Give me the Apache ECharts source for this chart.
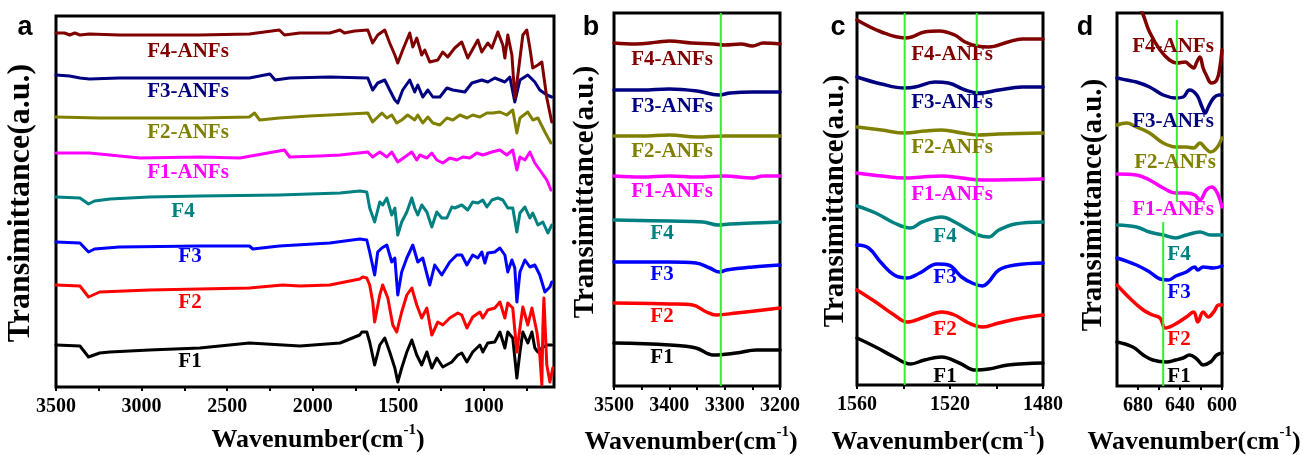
<!DOCTYPE html>
<html><head><meta charset="utf-8">
<script src="https://cdn.jsdelivr.net/npm/echarts@6/dist/echarts.min.js"></script>
<style>html,body{margin:0;padding:0;background:#fff}#c{width:1306px;height:455px}</style>
</head><body><div id="c"></div>
<script>
// ---------- names / colours ----------
const seriesNames = ['F1','F2','F3','F4','F1-ANFs','F2-ANFs','F3-ANFs','F4-ANFs'];
const seriesColors = ['#000000','#ff0000','#0000ff','#008080','#ff00ff','#808000','#000080','#800000'];

// ---------- panel a (wavenumber, transmittance a.u.) ----------
const aF1 = [[3500,42],[3360,41],[3310,30],[3245,34],[3185,35],[2955,37],[2660,39],[2370,44],[2075,41],[1840,44],[1725,52],[1713,55],[1684,55],[1667,45],[1638,22],[1608,42],[1579,49],[1550,35],[1520,19],[1503,5],[1480,19],[1450,35],[1421,47],[1392,32],[1363,22],[1333,35],[1304,19],[1275,29],[1240,20],[1187,25],[1152,32],[1129,34],[1099,25],[1065,35],[1023,42],[1006,35],[977,44],[936,45],[906,55],[877,39],[860,55],[831,49],[807,9],[789,35],[772,55],[743,44],[719,55],[702,39],[684,35],[661,39],[632,42],[603,42]];
const aF2 = [[3500,102],[3360,101],[3310,90],[3245,95],[2955,97],[2660,98],[2370,99],[2175,102],[2075,101],[1900,102],[1725,108],[1708,110],[1684,109],[1667,102],[1649,85],[1638,65],[1608,92],[1591,102],[1561,89],[1532,62],[1509,55],[1480,75],[1450,92],[1421,99],[1392,82],[1363,69],[1333,79],[1304,52],[1269,65],[1240,62],[1199,69],[1152,74],[1129,72],[1099,59],[1065,70],[1023,75],[1006,69],[977,77],[936,79],[906,85],[877,69],[860,84],[831,79],[807,35],[789,59],[772,80],[743,62],[719,79],[690,55],[673,32],[661,2],[655,60],[649,89],[632,22],[614,5],[597,19]];
const aF3 = [[3500,145],[3360,144],[3310,135],[3275,138],[3130,140],[2660,141],[2370,141],[2350,138],[2195,141],[1900,144],[1725,148],[1684,147],[1667,135],[1638,112],[1620,135],[1596,139],[1567,142],[1538,125],[1520,129],[1503,92],[1480,115],[1450,129],[1415,142],[1386,125],[1357,129],[1316,102],[1287,122],[1246,112],[1199,125],[1158,132],[1129,132],[1099,122],[1065,132],[1035,129],[1012,135],[994,124],[977,134],[936,135],[906,139],[877,132],[860,115],[836,127],[819,119],[807,85],[789,115],[760,127],[731,120],[702,122],[673,112],[643,95],[614,100],[603,105]];
const aF4 = [[3500,190],[3360,189],[3310,183],[3275,186],[3185,188],[2955,190],[2660,191],[2195,192],[1840,194],[1725,196],[1684,195],[1667,179],[1638,165],[1608,185],[1591,182],[1567,189],[1538,172],[1520,179],[1503,152],[1480,165],[1450,175],[1421,189],[1404,179],[1386,172],[1363,182],[1333,175],[1304,160],[1275,175],[1246,169],[1216,169],[1187,180],[1170,179],[1129,182],[1094,177],[1065,185],[1035,184],[1006,187],[982,180],[953,187],[918,189],[889,187],[860,179],[831,179],[807,155],[789,174],[760,180],[731,169],[714,174],[684,162],[655,165],[626,154],[603,162]];
const aF1ANF = [[3500,234],[3305,234],[3245,233],[3010,229],[2660,230],[2425,229],[2165,237],[2135,230],[1960,231],[1840,232],[1678,235],[1650,230],[1608,235],[1567,230],[1538,235],[1503,225],[1462,230],[1421,235],[1392,227],[1374,232],[1333,229],[1304,234],[1275,227],[1240,224],[1199,229],[1158,227],[1123,230],[1082,229],[1041,234],[1006,232],[953,235],[906,237],[866,232],[831,237],[807,217],[789,230],[760,227],[731,235],[702,224],[673,217],[632,207],[608,197]];
const aF2ANF = [[3500,270],[3245,269],[2660,269],[2370,270],[2340,274],[2310,267],[2195,269],[2020,271],[1900,272],[1678,274],[1650,265],[1596,274],[1567,269],[1538,272],[1509,264],[1480,267],[1445,272],[1404,267],[1386,272],[1357,264],[1327,270],[1298,264],[1257,262],[1216,269],[1181,267],[1140,272],[1099,269],[1065,272],[1023,270],[982,274],[947,274],[906,275],[866,272],[831,277],[807,254],[789,269],[743,275],[714,267],[684,269],[643,255],[608,244]];
const aF3ANF = [[3500,312],[3420,311],[3360,309],[3305,308],[3130,309],[2660,309],[2370,309],[2250,313],[2220,307],[2135,309],[1900,310],[1678,309],[1650,297],[1620,304],[1579,307],[1550,297],[1520,287],[1503,284],[1474,297],[1433,307],[1404,295],[1386,302],[1357,290],[1327,297],[1298,290],[1257,290],[1216,299],[1181,297],[1111,295],[1070,304],[1012,307],[977,305],[936,309],[877,305],[848,310],[819,285],[789,307],[743,312],[702,305],[673,297],[632,292],[603,290]];
const aF4ANF = [[3500,354],[3450,354],[3420,352],[3390,354],[3360,352],[3305,353],[3130,352],[2955,352],[2660,352],[2370,353],[2195,357],[2165,352],[2075,354],[1900,354],[1840,357],[1815,354],[1755,356],[1678,357],[1650,344],[1620,352],[1579,357],[1550,344],[1520,332],[1503,324],[1474,337],[1433,354],[1415,340],[1392,349],[1363,332],[1345,337],[1316,325],[1269,327],[1240,335],[1211,330],[1170,339],[1129,345],[1094,329],[1035,347],[1012,335],[977,344],[953,339],[918,355],[889,342],[877,329],[860,352],[836,332],[819,289],[801,312],[772,352],[749,357],[731,339],[714,319],[684,322],[661,325],[632,289],[603,265]];

// ---------- panel b ----------
const bF1 = [[3500,43],[3400,41],[3352,38],[3321,31],[3279,33],[3242,36],[3200,36]];
const bF2 = [[3500,83],[3400,82],[3358,81],[3333,74],[3315,71],[3279,73],[3200,78]];
const bF3 = [[3500,124],[3400,124],[3352,123],[3327,118],[3309,114],[3297,116],[3249,119],[3200,121]];
const bF4 = [[3500,166],[3400,165],[3339,164],[3312,161],[3291,162],[3250,163],[3200,164]];
const bF1ANF = [[3500,210],[3450,209],[3400,210],[3350,209],[3300,210],[3250,208],[3230,210],[3200,210]];
const bF2ANF = [[3500,250],[3450,250],[3400,251],[3350,249],[3300,250],[3250,250],[3200,250]];
const bF3ANF = [[3500,296],[3450,296],[3400,297],[3350,295],[3310,291],[3290,293],[3250,294],[3200,294]];
const bF4ANF = [[3500,343],[3461,342],[3420,344],[3400,345],[3360,343],[3320,342],[3300,341],[3270,342],[3250,340],[3230,343],[3200,342]];

// ---------- panel c ----------
const cF1 = [[1560,47],[1552,38],[1544,28],[1537,21],[1531,25],[1523.6,28],[1516,22],[1509,15],[1503.4,16],[1495,20],[1480,22]];
const cF2 = [[1560,95],[1552,83],[1544,70],[1538.5,63],[1531,68],[1523.6,73],[1518,70],[1512,62],[1506,58],[1499,62],[1489,67],[1480,70]];
const cF3 = [[1560,140],[1555,137],[1549.5,122],[1544,110],[1538.5,107],[1533,112],[1525.5,121],[1520.7,120],[1515,108],[1510.5,102],[1506,99],[1503.4,103],[1499,115],[1492,120],[1480,122]];
const cF4 = [[1560,179],[1552,172],[1544,162],[1537,157],[1532,163],[1523.6,168],[1518,163],[1512,155],[1508,150],[1503.4,148],[1499,155],[1492,161],[1480,163]];
const cF1ANF = [[1560,212],[1549.5,209],[1539.4,207],[1532,208],[1523.6,209],[1515,207],[1506,205],[1480,206]];
const cF2ANF = [[1560,258],[1549.5,255],[1539.4,252],[1531,254],[1523.6,255],[1515,252],[1508,250],[1499,251],[1480,252]];
const cF3ANF = [[1560,308],[1549.5,301],[1539.4,297],[1535,298],[1526.5,303],[1520.7,302],[1513.5,295],[1507.5,292],[1499,295],[1489,298],[1480,298]];
const cF4ANF = [[1560,365],[1549.5,353],[1539.4,347],[1536.5,348],[1531,353],[1524.5,354],[1518,350],[1513.5,343],[1508.5,339],[1503.4,338],[1495,343],[1489,346],[1480,346]];

// ---------- panel d ----------
const dF1 = [[700,44],[685,39],[675,31],[666,26],[653,24],[644,26],[637,28],[631,31],[624,27],[618,21],[611,24],[605,31],[600,33]];
const dF2 = [[700,101],[688,88],[675,76],[666,71],[659,68],[654,58],[646,61],[634,69],[627,74],[623,64],[618,74],[613,69],[608,74],[603,81],[600,81]];
const dF3 = [[700,128],[681.5,121],[669,114],[659,107],[651,106],[644,110],[634,114],[626,119],[623,116],[618,119],[608,118],[600,120]];
const dF4 = [[700,161],[681.5,159],[669,154],[656,151],[644,148],[634,151],[621,154],[611,151],[600,151]];
const dF1ANF = [[700,212],[681.5,211],[669,206],[656,198],[644,193],[634,193],[626,191],[621,186],[615,196],[610,199],[605,194],[600,179]];
const dF2ANF = [[700,261],[691,263],[681.5,259],[669,253],[656,243],[644,239],[634,239],[627,238],[621,243],[616,238],[611,234],[605,238],[600,248]];
const dF3ANF = [[700,308],[691,306],[681.5,304],[669,299],[656,291],[644,288],[637,289],[631,296],[624,291],[619,279],[616,273],[613,279],[608,288],[603,291],[600,291]];
const dF4ANF = [[683,390],[675,371],[669,354],[659,336],[650,326],[643,323],[635,324],[631,321],[627,318],[624,324],[621,329],[618,318],[615,311],[610,303],[605,306],[602,319],[600,336]];

// ---------- green marker lines ----------
const bGreen = [[[3307,0],[3307,373]]];
const cGreen = [[[1539.5,0],[1539.5,372]],[[1508.5,0],[1508.5,372]]];
const dGreen = [[[643,184],[643,366]],[[656,0],[656,164]]];

// ---------- axis ticks / labels ----------
const aLabels = [3500,3000,2500,2000,1500,1000];
const aTicks = [3500,3250,3000,2750,2500,2250,2000,1750,1500,1250,1000,750];
const bLabels = [3500,3400,3300,3200];
const bTicks = [3500,3450,3400,3350,3300,3250,3200];
const cLabels = [1560,1520,1480];
const cTicks = [1560,1540,1520,1500,1480];
const dLabels = [680,640,600];
const dTicks = [680,660,640,620,600];

const panelLetters = ['a','b','c','d'];
const yName = 'Transimittance(a.u.)';

// ---------- layout ----------
const panels = [
  {grid:{left:56,top:16,width:498,height:371}, min:590, max:3500, ymax:371, labels:aLabels, ticks:aTicks,
   data:[aF1,aF2,aF3,aF4,aF1ANF,aF2ANF,aF3ANF,aF4ANF], smooth:false, lw:3, green:[],
   lab:[[190,362],[190,303],[190,257],[183,212],[188,173],[188,133],[188,92],[188,52]],
   letter:[25,28], yname:[21,203,32], xname:[318,438]},
  {grid:{left:614,top:13,width:166,height:373}, min:3200, max:3500, ymax:373, labels:bLabels, ticks:bTicks,
   data:[bF1,bF2,bF3,bF4,bF1ANF,bF2ANF,bF3ANF,bF4ANF], smooth:0.4, lw:3.5, green:bGreen,
   lab:[[662,358],[662,317],[662,275],[662,234],[672,192],[672,152],[672,107],[672,60]],
   letter:[591,28], yname:[586,192,29], xname:[691,440]},
  {grid:{left:857,top:13,width:186,height:372}, min:1480, max:1560, ymax:372, labels:cLabels, ticks:cTicks,
   data:[cF1,cF2,cF3,cF4,cF1ANF,cF2ANF,cF3ANF,cF4ANF], smooth:0.4, lw:3.5, green:cGreen,
   lab:[[945,377],[945,330],[945,278],[945,237],[952,195],[952,148],[952,103],[952,55]],
   letter:[838,28], yname:[836,201,29], xname:[938,440]},
  {grid:{left:1117,top:13,width:105,height:373}, min:600, max:700, ymax:373, labels:dLabels, ticks:dTicks,
   data:[dF1,dF2,dF3,dF4,dF1ANF,dF2ANF,dF3ANF,dF4ANF], smooth:0.4, lw:3.5, green:dGreen,
   lab:[[1179,377],[1179,340],[1179,293],[1179,255],[1173,210],[1175,163],[1173,122],[1173,47]],
   letter:[1085,28], yname:[1094,205,29], xname:[1194,440]}
];

const serif = '"Liberation Serif","Times New Roman",serif';
const grids = [], xAxes = [], yAxes = [], series = [], graphics = [];

panels.forEach((p, gi) => {
  grids.push(Object.assign({show:true, borderColor:'#000', borderWidth:3, containLabel:false}, p.grid));
  xAxes.push({gridIndex:gi, type:'value', min:p.min, max:p.max, inverse:true,
    axisLine:{show:false}, splitLine:{show:false},
    axisTick:{show:true, inside:false, length:4, lineStyle:{color:'#000', width:2}, customValues:p.ticks},
    axisLabel:{customValues:p.labels, formatter:(v) => String(v), color:'#000', fontSize:20, fontWeight:'bold', fontFamily:serif, margin:10}
  });
  yAxes.push({gridIndex:gi, type:'value', min:0, max:p.ymax, show:false});
  p.data.forEach((d, si) => {
    series.push({type:'line', name:seriesNames[si]+'_'+gi, xAxisIndex:gi, yAxisIndex:gi, data:d,
      symbol:'none', smooth:p.smooth, clip:true, animation:false, silent:true, z:2+si,
      lineStyle:{color:seriesColors[si], width:p.lw, cap:'round', join:'round'}});
  });
  p.green.forEach((g) => {
    series.push({type:'line', xAxisIndex:gi, yAxisIndex:gi, data:g, symbol:'none', animation:false, silent:true, z:20,
      lineStyle:{color:'#33ee33', width:2}});
  });
  p.lab.forEach((pos, si) => {
    graphics.push({type:'text', x:pos[0], y:pos[1], z:30, style:{text:seriesNames[si], fill:seriesColors[si],
      font:'bold 21px '+serif, textAlign:'center', textVerticalAlign:'middle', align:'center', verticalAlign:'middle'}});
  });
  graphics.push({type:'text', x:p.letter[0], y:p.letter[1], z:30, style:{text:panelLetters[gi], fill:'#000',
    font:'bold 27px "Liberation Sans",Arial,sans-serif', textAlign:'center', textVerticalAlign:'middle', align:'center', verticalAlign:'middle'}});
  graphics.push({type:'text', x:p.yname[0], y:p.yname[1], rotation:Math.PI/2, z:30, style:{text:yName, fill:'#000',
    font:'bold '+p.yname[2]+'px '+serif, textAlign:'center', textVerticalAlign:'middle', align:'center', verticalAlign:'middle'}});
  graphics.push({type:'text', x:p.xname[0], y:p.xname[1], z:30, style:{text:'{m|Wavenumber(cm}{s|-1}{m|)}', fill:'#000',
    textAlign:'center', textVerticalAlign:'middle', align:'center', verticalAlign:'middle',
    rich:{m:{font:'bold 26px '+serif, fill:'#000', lineHeight:30, verticalAlign:'bottom'},
          s:{font:'bold 15px '+serif, fill:'#000', lineHeight:30, verticalAlign:'top'}}}});
});

const chart = echarts.init(document.getElementById('c'), null, {renderer:'canvas'});
chart.setOption({animation:false, backgroundColor:'#fff', grid:grids, xAxis:xAxes, yAxis:yAxes, series:series, graphic:graphics});
</script></body></html>
